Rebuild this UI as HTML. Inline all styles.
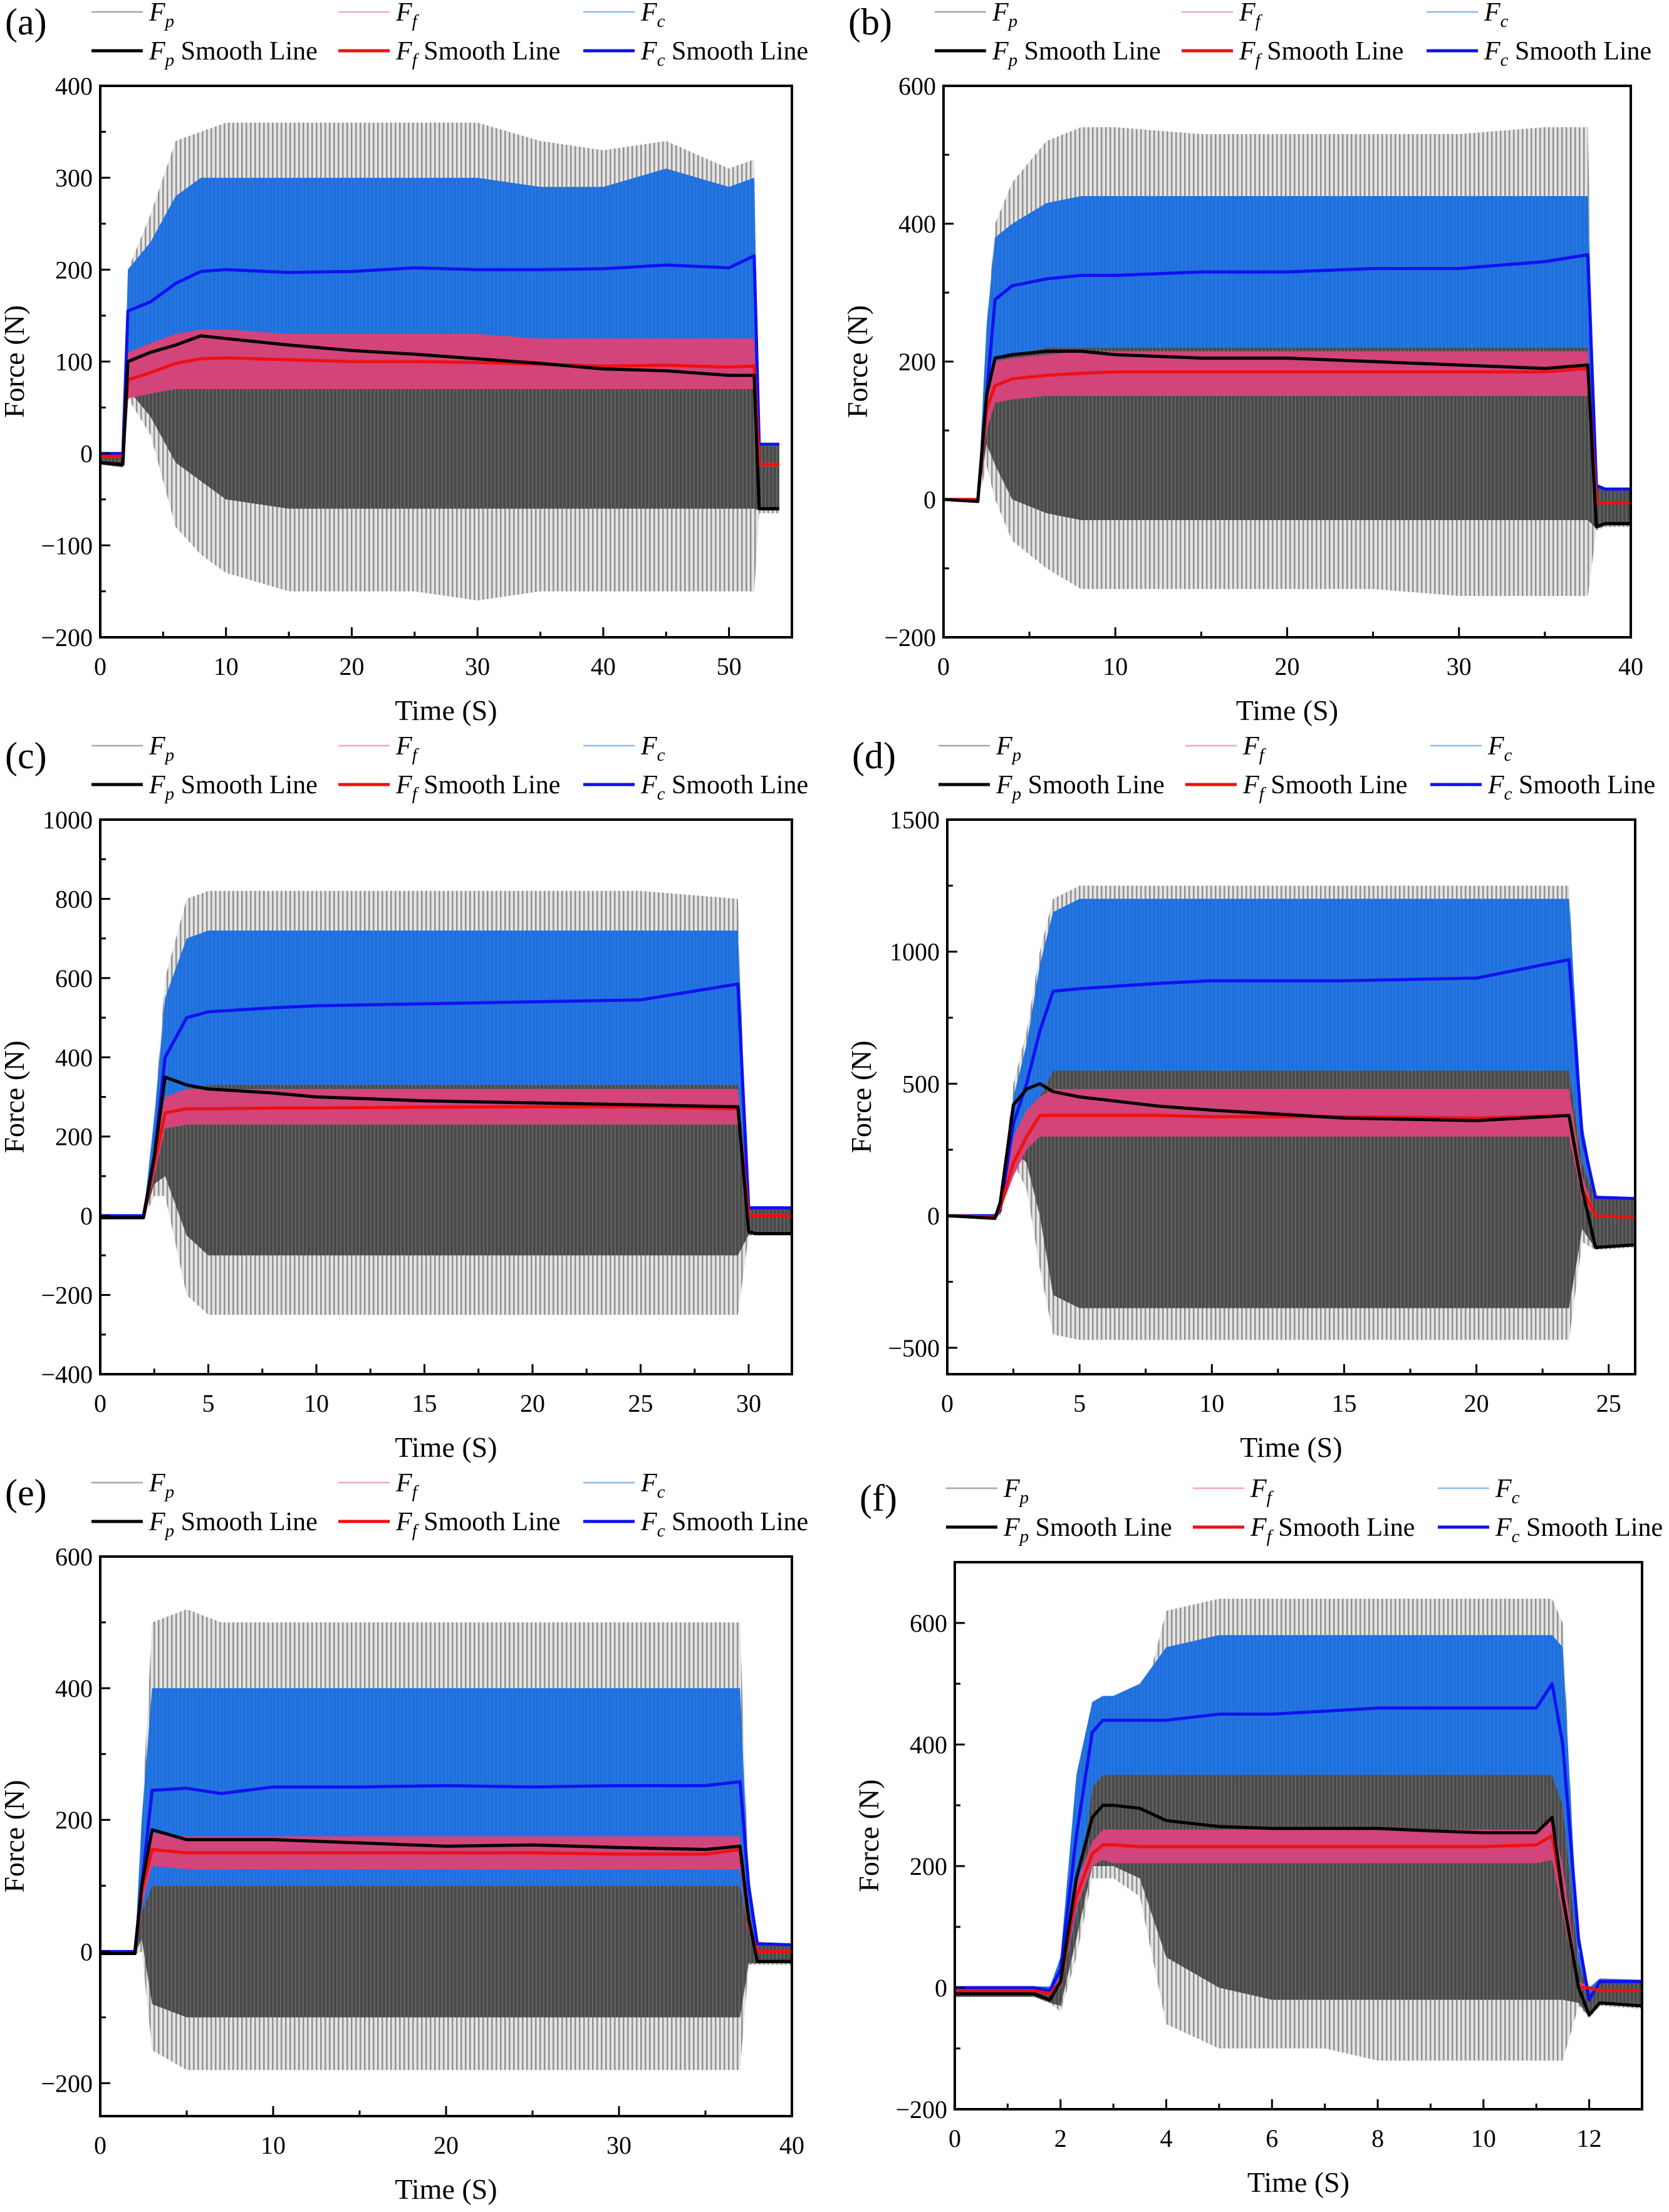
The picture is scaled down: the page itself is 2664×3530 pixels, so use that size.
<!DOCTYPE html>
<html><head><meta charset="utf-8"><style>
html,body{margin:0;padding:0;background:#fff;}
svg{display:block;}
text{font-family:"Liberation Serif","Times New Roman",serif;}
</style></head><body>
<svg id="fig" width="2664" height="3530" viewBox="0 0 2664 3530" xmlns="http://www.w3.org/2000/svg" font-family="Liberation Serif, serif">
<defs>
<pattern id="spk" width="7" height="40" patternUnits="userSpaceOnUse"><rect width="7" height="40" fill="#e4e4e4"/><rect width="2.5" height="40" fill="#909090"/></pattern>
<pattern id="dspk" width="6" height="40" patternUnits="userSpaceOnUse"><rect width="6" height="40" fill="#4a4a4a"/><rect x="3" width="1.5" height="40" fill="#6a6a6a"/></pattern>
<pattern id="bspk" width="6" height="40" patternUnits="userSpaceOnUse"><rect width="6" height="40" fill="#1f6fdc"/><rect x="2" width="1.5" height="40" fill="#2a7ae6"/></pattern>
</defs>
</svg>
<script>
// ---- Panel (a) ----
const aT=[0,1.8,2.2,4,6,8,10,15,20,25,30,35,40,45,50,52,52.4,54];
const aFc=[0,0,155,165,185,198,200,197,198,202,200,200,201,205,202,215,10,10];
const aFp=[-10,-12,100,110,118,128,125,118,112,108,103,98,92,90,85,85,-60,-60];
const aFf=[-3,-3,80,88,98,103,104,102,100,100,99,97,95,96,94,95,-12,-12];
const aGHi=[0,0,200,260,340,350,360,360,360,360,360,340,330,340,310,320,-50,-55];
const aGLo=[-12,-15,60,20,-80,-110,-130,-150,-150,-150,-160,-150,-150,-150,-150,-150,-65,-65];
const aDLo=[-12,-15,70,40,-10,-30,-50,-60,-60,-60,-60,-60,-60,-60,-60,-60,-62,-62];
const aBHi=[0,0,200,230,280,300,300,300,300,300,300,290,290,310,290,300,12,10];
const aBLo=[0,0,110,110,110,110,110,110,110,110,110,110,110,110,110,110,8,8];
const aPHi=[-3,-3,110,120,130,135,135,130,130,130,130,125,125,125,125,125,-10,-10];
const aPLo=[-3,-3,60,65,70,70,70,70,70,70,70,70,70,70,70,70,-14,-14];
const aXTicks=[0,10,20,30,40,50];
const aYTicks=[-200,-100,0,100,200,300,400];
// ---- Panel (b) ----
const bT=[0,2,2.5,3,4,6,8,10,15,20,25,30,35,37.5,38,38.5,40];
const bFc=[0,0,150,290,310,320,325,325,330,330,335,335,345,355,20,15,15];
const bFp=[0,-3,150,205,210,215,215,210,205,205,200,195,190,195,-40,-35,-35];
const bFf=[0,0,130,165,175,180,183,185,185,185,185,185,185,190,-5,-5,-5];
const bGHi=[0,0,250,400,460,520,540,540,530,530,530,530,540,540,-30,-30,-30];
const bGLo=[0,-5,50,0,-60,-100,-130,-130,-130,-130,-130,-140,-140,-140,-45,-40,-40];
const bDLo=[0,-5,80,50,0,-20,-30,-30,-30,-30,-30,-30,-30,-30,-42,-38,-38];
const bBHi=[0,0,250,380,400,430,440,440,440,440,440,440,440,440,22,17,17];
const bBLo=[0,0,100,200,210,220,220,220,220,220,220,220,220,220,18,13,13];
const bPHi=[0,0,170,200,205,210,215,215,215,215,215,215,215,215,-3,-3,-3];
const bPLo=[0,0,100,140,145,150,150,150,150,150,150,150,150,150,-7,-7,-7];
const bXTicks=[0,10,20,30,40];
const bYTicks=[-200,0,200,400,600];
// ---- Panel (c) ----
const cT=[0,2,2.5,3,4,5,8,10,15,20,25,29.5,30,30.3,32];
const cFc=[0,0,150,400,500,515,525,530,535,540,545,585,20,20,20];
const cFp=[-5,-5,150,350,330,320,310,300,290,285,280,275,-40,-45,-45];
const cFf=[-5,-5,130,260,270,270,272,272,274,275,275,270,0,0,0];
const cGHi=[0,0,250,600,800,820,820,820,820,820,820,800,-30,-40,-40];
const cGLo=[-8,-8,50,50,-200,-250,-250,-250,-250,-250,-250,-250,-50,-50,-50];
const cDLo=[-8,-8,80,100,-50,-100,-100,-100,-100,-100,-100,-100,-48,-48,-48];
const cBHi=[0,0,250,550,700,720,720,720,720,720,720,720,22,22,22];
const cBLo=[0,0,100,300,320,330,330,330,330,330,330,330,18,18,18];
const cPHi=[-5,-5,170,300,320,320,320,320,320,320,320,320,2,2,2];
const cPLo=[-5,-5,100,220,230,230,230,230,230,230,230,230,-2,-2,-2];
const cXTicks=[0,5,10,15,20,25,30];
const cYTicks=[-400,-200,0,200,400,600,800,1000];
// ---- Panel (d) ----
const dT=[0,1.8,2,2.5,3,3.5,4,5,8,10,15,20,23.5,24,24.5,26];
const dFc=[0,0,20,350,500,700,850,860,880,890,890,900,970,300,70,65];
const dFp=[0,-10,50,420,480,500,470,450,415,400,370,360,380,100,-120,-110];
const dFf=[0,-5,30,200,300,380,380,380,380,375,375,370,380,100,0,-5];
const dGHi=[0,0,50,500,700,1000,1200,1250,1250,1250,1250,1250,1250,300,-100,-100];
const dGLo=[0,-15,0,200,100,-200,-450,-470,-470,-470,-470,-470,-470,-100,-130,-120];
const dDLo=[0,-15,10,250,200,0,-300,-350,-350,-350,-350,-350,-350,-50,-125,-115];
const dBHi=[0,0,40,450,650,950,1150,1200,1200,1200,1200,1200,1200,350,75,70];
const dBLo=[0,0,10,250,350,450,550,550,550,550,550,550,550,200,65,60];
const dPHi=[0,0,40,300,400,450,480,480,480,480,480,480,480,150,5,0];
const dPLo=[0,-10,20,150,250,300,300,300,300,300,300,300,300,60,-5,-10];
const dXTicks=[0,5,10,15,20,25];
const dYTicks=[-500,0,500,1000,1500];
// ---- Panel (e) ----
const eT=[0,2,2.4,3,5,7,10,15,20,25,30,35,37,37.5,38,40];
const eFc=[0,0,100,245,248,240,250,250,252,250,252,252,258,100,12,10];
const eFp=[-3,-3,100,185,170,170,170,165,160,162,158,155,160,50,-15,-15];
const eFf=[-3,-3,90,155,150,150,150,150,150,150,148,148,155,40,0,0];
const eGHi=[0,0,200,500,520,500,500,500,500,500,500,500,500,100,-10,-10];
const eGLo=[-5,-5,0,-150,-180,-180,-180,-180,-180,-180,-180,-180,-180,-20,-20,-20];
const eDLo=[-5,-5,20,-80,-100,-100,-100,-100,-100,-100,-100,-100,-100,-18,-18,-18];
const eBHi=[0,0,200,400,400,400,400,400,400,400,400,400,400,100,14,12];
const eBLo=[0,0,60,100,100,100,100,100,100,100,100,100,100,30,10,8];
const ePHi=[-3,-3,110,180,175,175,175,175,175,175,175,175,175,50,2,2];
const ePLo=[-3,-3,70,130,125,125,125,125,125,125,125,125,125,30,-2,-2];
const eXTicks=[0,10,20,30,40];
const eYTicks=[-200,0,200,400,600];
// ---- Panel (f) ----
const fT=[0,1.5,1.8,2,2.3,2.6,2.8,3,3.5,4,5,6,7,8,9,10,11,11.3,11.5,11.8,12,12.2,13];
const fFc=[0,0,-5,30,250,420,440,440,440,440,450,450,455,460,460,460,460,500,400,80,-20,10,10];
const fFp=[-10,-10,-20,10,180,280,300,300,295,275,265,262,262,262,258,255,255,280,150,0,-45,-25,-30];
const fFf=[-5,-5,-10,10,150,220,235,235,232,232,232,232,232,232,232,232,235,250,150,0,0,-5,-5];
const fGHi=[-5,-5,-5,50,350,450,450,420,450,620,640,640,640,640,640,640,640,640,600,40,-25,-20,-25];
const fGLo=[-15,-15,-25,-40,50,180,180,180,150,-60,-100,-100,-100,-120,-120,-120,-120,-120,-120,-30,-50,-30,-35];
const fDLo=[-15,-15,-25,-30,80,200,200,200,180,50,0,-20,-20,-20,-20,-20,-20,-20,-20,-25,-48,-28,-32];
const fBHi=[2,2,2,50,350,470,480,480,500,560,580,580,580,580,580,580,580,580,560,60,0,15,13];
const fBLo=[-2,-2,-5,0,120,330,350,350,350,350,350,350,350,350,350,350,350,350,300,40,-10,8,8];
const fPHi=[-3,-3,-8,20,170,240,260,260,260,260,260,260,260,260,260,260,260,280,200,10,2,-2,-3];
const fPLo=[-7,-7,-12,0,130,200,210,205,205,205,205,205,205,205,205,205,205,210,120,-5,-2,-7,-7];
const fXTicks=[0,2,4,6,8,10,12];
const fYTicks=[-200,0,200,400,600];

const NS='http://www.w3.org/2000/svg';
const svg=document.getElementById('fig');
const FONT='"Liberation Serif", "Times New Roman", serif';
function mk(tag,attrs,parent){const e=document.createElementNS(NS,tag);for(const k in attrs)e.setAttribute(k,attrs[k]);if(tag==='text')e.style.fontFamily=FONT;(parent||svg).appendChild(e);return e;}

const panels=[
 {id:'a',L:160,R:1264,T:137,B:1017,x0:0,x1:55,y0:-200,y1:400,t:aT,fc:aFc,fp:aFp,ff:aFf,gh:aGHi,gl:aGLo,dl:aDLo,bh:aBHi,bl:aBLo,ph:aPHi,pl:aPLo,xt:aXTicks,yt:aYTicks},
 {id:'b',L:1506,R:2603,T:137,B:1017,x0:0,x1:40,y0:-200,y1:600,t:bT,fc:bFc,fp:bFp,ff:bFf,gh:bGHi,gl:bGLo,dl:bDLo,bh:bBHi,bl:bBLo,ph:bPHi,pl:bPLo,xt:bXTicks,yt:bYTicks},
 {id:'c',L:160,R:1264,T:1308,B:2193,x0:0,x1:32,y0:-400,y1:1000,t:cT,fc:cFc,fp:cFp,ff:cFf,gh:cGHi,gl:cGLo,dl:cDLo,bh:cBHi,bl:cBLo,ph:cPHi,pl:cPLo,xt:cXTicks,yt:cYTicks},
 {id:'d',L:1512,R:2610,T:1308,B:2193,x0:0,x1:26,y0:-600,y1:1500,t:dT,fc:dFc,fp:dFp,ff:dFf,gh:dGHi,gl:dGLo,dl:dDLo,bh:dBHi,bl:dBLo,ph:dPHi,pl:dPLo,xt:dXTicks,yt:dYTicks},
 {id:'e',L:160,R:1264,T:2484,B:3377,x0:0,x1:40,y0:-250,y1:600,t:eT,fc:eFc,fp:eFp,ff:eFf,gh:eGHi,gl:eGLo,dl:eDLo,bh:eBHi,bl:eBLo,ph:ePHi,pl:ePLo,xt:eXTicks,yt:eYTicks},
 {id:'f',L:1524,R:2621,T:2493,B:3366,x0:0,x1:13,y0:-200,y1:700,t:fT,fc:fFc,fp:fFp,ff:fFf,gh:fGHi,gl:fGLo,dl:fDLo,bh:fBHi,bl:fBLo,ph:fPHi,pl:fPLo,xt:fXTicks,yt:fYTicks}
];

panels.forEach(p=>{
 const g=mk('g',{});
 
 
 const X=v=>p.L+(v-p.x0)/(p.x1-p.x0)*(p.R-p.L);
 const Y=v=>p.B-(v-p.y0)/(p.y1-p.y0)*(p.B-p.T);
 const cid='clip'+p.id;
 const cp=mk('clipPath',{id:cid},g);mk('rect',{x:p.L,y:p.T,width:p.R-p.L,height:p.B-p.T},cp);
 const data=mk('g',{'clip-path':'url(#'+cid+')'},g);
 function band(hi,lo,fill,name){
  let d='M';
  p.t.forEach((t,i)=>{d+=X(t).toFixed(1)+','+Y(hi[i]).toFixed(1)+' L';});
  for(let i=p.t.length-1;i>=0;i--){d+=X(p.t[i]).toFixed(1)+','+Y(lo[i]).toFixed(1)+(i?' L':' Z');}
  const e=mk('path',{d:d,fill:fill},data);
  
  
 }
 function line(arr,color,w,name){
  const pts=p.t.map((t,i)=>X(t).toFixed(1)+','+Y(arr[i]).toFixed(1)).join(' ');
  const e=mk('polyline',{points:pts,fill:'none',stroke:color,'stroke-width':w,'stroke-linejoin':'round'},data);
  
  
 }
 band(p.gh,p.gl,'url(#spk)','fp-raw-band');
 band(p.bl,p.dl,'url(#dspk)','fp-raw-dense-band');
 band(p.bh,p.bl,'url(#bspk)','fc-raw-band');
 band(p.ph,p.pl,'#d2447a','ff-raw-band');
 line(p.fc,'#1010f0',5,'fc-smooth-line');
 line(p.ff,'#f01010',5,'ff-smooth-line');
 line(p.fp,'#000',5,'fp-smooth-line');
 const fr=mk('rect',{x:p.L,y:p.T,width:p.R-p.L,height:p.B-p.T,fill:'none',stroke:'#000','stroke-width':4},g);
 
 
 const xstep=p.xt[1]-p.xt[0];
 p.xt.forEach(v=>{
  mk('line',{x1:X(v),x2:X(v),y1:p.B,y2:p.B-16,stroke:'#000','stroke-width':3},g);
  const m=v+xstep/2; if(m<p.x1) mk('line',{x1:X(m),x2:X(m),y1:p.B,y2:p.B-9,stroke:'#000','stroke-width':3},g);
  const tx=mk('text',{x:X(v),y:p.B+60,'font-size':40,'text-anchor':'middle'},g);tx.textContent=v;
  
  
 });
 const ystep=p.yt[1]-p.yt[0];
 p.yt.forEach(v=>{
  mk('line',{x1:p.L,x2:p.L+16,y1:Y(v),y2:Y(v),stroke:'#000','stroke-width':3},g);
  const m=v+ystep/2; if(m<p.y1) mk('line',{x1:p.L,x2:p.L+9,y1:Y(m),y2:Y(m),stroke:'#000','stroke-width':3},g);
  const tx=mk('text',{x:p.L-12,y:Y(v)+14,'font-size':40,'text-anchor':'end'},g);tx.textContent=(v<0?'\u2212'+(-v):v);
  
  
 });
 const xt=mk('text',{x:(p.L+p.R)/2,y:p.B+132,'font-size':46,'text-anchor':'middle'},g);xt.textContent='Time (S)';
 
 
 const yx=p.L-122,yy=(p.T+p.B)/2;
 const yt=mk('text',{x:yx,y:yy,'font-size':46,'text-anchor':'middle',transform:'rotate(-90 '+yx+' '+yy+')'},g);yt.textContent='Force (N)';
 
 
 const lb=mk('text',{x:p.L-152,y:p.T-82,'font-size':60},g);lb.textContent='('+p.id+')';
 
 
 const cols=[['p','#a8a8a8','#000'],['f','#f0a8bc','#f01010'],['c','#8ab8f0','#1010f0']];
 const offs=[-14,380,771];
 cols.forEach((c,i)=>{
  [[p.T-104,c[1],2.5,''],[p.T-42,c[2],5,' Smooth Line']].forEach(r=>{
   const lx=p.L+offs[i];
   const le=mk('g',{},g);
   
   
   mk('line',{x1:lx,x2:lx+82,y1:r[0]-14,y2:r[0]-14,stroke:r[1],'stroke-width':r[2]},le);
   const t=mk('text',{x:lx+92,y:r[0],'font-size':42},le);
   const f=mk('tspan',{'font-style':'italic'},t);f.textContent='F';
   const s=mk('tspan',{'font-style':'italic','font-size':29,dy:10},t);s.textContent=c[0];
   if(r[3]){const q=mk('tspan',{dy:-10},t);q.textContent=r[3];}
  });
 });
});
</script>
</body></html>
